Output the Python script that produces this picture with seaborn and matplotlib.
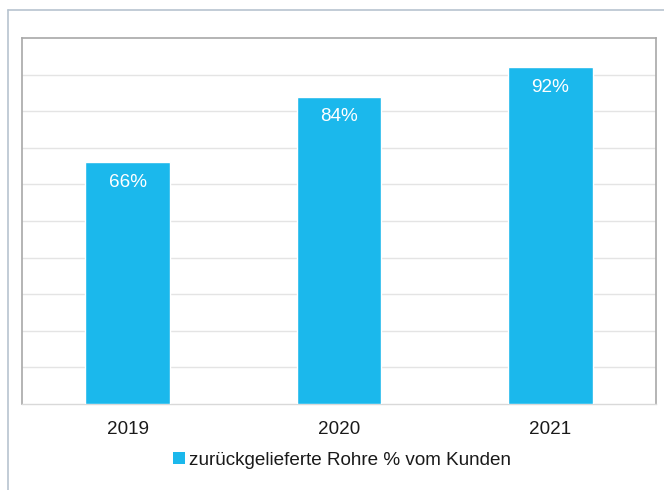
import matplotlib
matplotlib.use("Agg")
import matplotlib.pyplot as plt
from matplotlib.lines import Line2D
from matplotlib.patches import Patch
import seaborn as sns
import pandas as pd

years = ["2019", "2020", "2021"]
returned_pct = [66, 84, 92]
series_label = "zurückgelieferte Rohre % vom Kunden"

BAR_COLOR = "#1BB8EC"
FS = 13.6

sns.set_theme(style="white")
plt.rcParams["font.family"] = ["Liberation Sans", "DejaVu Sans"]

df = pd.DataFrame({"Jahr": years, "Anteil": returned_pct})

W, H = 664, 490
fig = plt.figure(figsize=(W / 100, H / 100), dpi=100)
fig.patch.set_facecolor("white")

# outer frame (top and left edges visible)
fig.add_artist(Line2D([8 / W, 1.0], [1 - 10 / H, 1 - 10 / H], transform=fig.transFigure,
                      color="#B7C3CF", lw=1.2))
fig.add_artist(Line2D([8 / W, 8 / W], [0.0, 1 - 10 / H], transform=fig.transFigure,
                      color="#B7C3CF", lw=1.2))

ax = fig.add_axes([22 / W, 86 / H, 634 / W, 366 / H])
sns.barplot(data=df, x="Jahr", y="Anteil", color=BAR_COLOR, saturation=1,
            width=0.4, ax=ax, zorder=3)

ax.set_ylim(0, 100)
ax.set_xlim(-0.5, 2.5)
ax.set_yticks(range(10, 100, 10))
ax.set_yticklabels([])
ax.yaxis.grid(True, color="#E4E4E4", lw=1.0, zorder=0)
ax.set_axisbelow(True)
ax.set_xlabel("")
ax.set_ylabel("")
ax.tick_params(axis="x", length=0, pad=12.5, labelsize=FS, labelcolor="#1A1A1A")
ax.tick_params(axis="y", length=0)

for side in ["top", "left", "right"]:
    ax.spines[side].set_color("#A8A8A8")
    ax.spines[side].set_linewidth(1.2)
ax.spines["bottom"].set_color("#D9D9D9")
ax.spines["bottom"].set_linewidth(1.0)

# value labels inside each bar, near the top
for i, v in enumerate(returned_pct):
    ax.annotate(f"{v}%", xy=(i, v), xytext=(0, -14.6), textcoords="offset points",
                ha="center", va="center", color="white", fontsize=FS)

handle = Patch(facecolor=BAR_COLOR, edgecolor="none")
fig.legend([handle], [series_label], loc="center",
           bbox_to_anchor=(342 / W, 1 - 460 / H), frameon=False,
           fontsize=FS, handlelength=0.6, handleheight=0.6, handletextpad=0.2,
           labelcolor="#1A1A1A")

fig.savefig("out.png", dpi=100, facecolor="white")
